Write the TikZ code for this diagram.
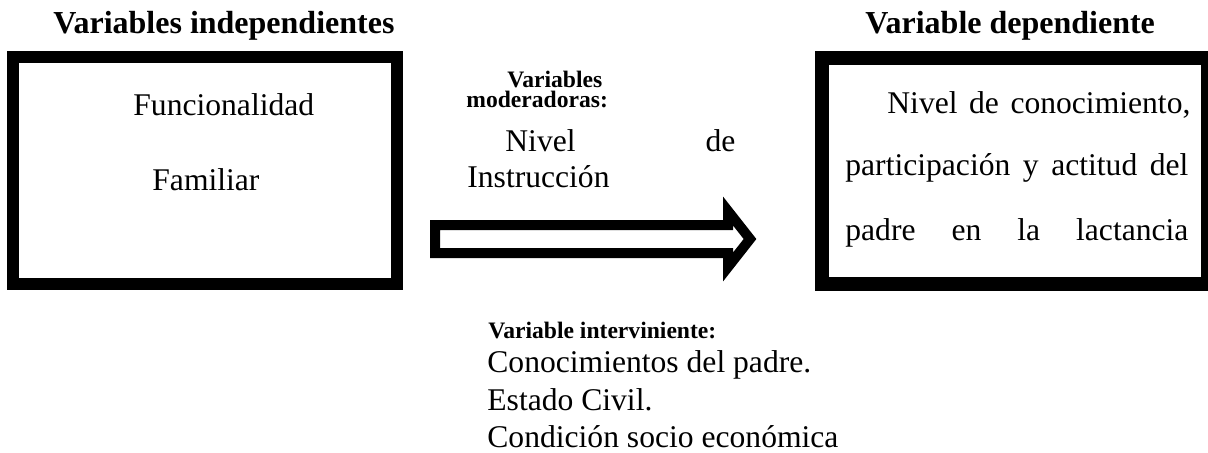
\documentclass[tikz,border=0pt]{standalone}
\usepackage{fontspec}
\setmainfont{Liberation Serif}
\begin{document}
\begin{tikzpicture}[x=0.5pt,y=-0.5pt,
  varbox/.style={line width=#1, line join=miter},
  txt/.style={font=\fontsize{15.8}{19}\selectfont, inner sep=0pt, anchor=base west},
  titulo/.style={font=\fontsize{16}{19}\selectfont\bfseries, inner sep=0pt, anchor=base west},
  subtit/.style={font=\fontsize{11.8}{14}\selectfont\bfseries, inner sep=0pt, anchor=base west}]
\useasboundingbox (0,0) rectangle (1208,452);
\node[titulo] (indep) at (53,33) {Variables independientes};
\node[titulo] (dep) at (865,33) {Variable dependiente};
\draw[varbox=6pt] (13,57) rectangle (397,284);
\draw[varbox=7pt] (822,58) rectangle (1208,284);
\node[txt] (func) at (133,115) {Funcionalidad};
\node[txt] (fam) at (152,190) {Familiar};
\node[subtit] (mod1) at (507,87) {Variables};
\node[subtit] (mod2) at (466,107) {moderadoras:};
\node[txt] (niv) at (505,151) {\makebox[115pt][s]{Nivel de}};
\node[txt] (instr) at (467,187) {Instrucción};
\draw[varbox=5pt] (435,225) -- (728,225) -- (728,211) -- (750,239)
  -- (728,267) -- (728,253) -- (435,253) -- cycle;
\node[txt] (dep1) at (887,113) {\makebox[151.5pt][s]{Nivel de conocimiento,}};
\node[txt] (dep2) at (845,175) {\makebox[171.5pt][s]{participación y actitud del}};
\node[txt] (dep3) at (845,240) {\makebox[171.5pt][s]{padre en la lactancia}};
\node[subtit] (int0) at (488,338) {Variable interviniente:};
\node[txt] (int1) at (487,372) {Conocimientos del padre.};
\node[txt] (int2) at (487,410) {Estado Civil.};
\node[txt] (int3) at (487,447) {Condición socio económica};
\end{tikzpicture}
\end{document}
